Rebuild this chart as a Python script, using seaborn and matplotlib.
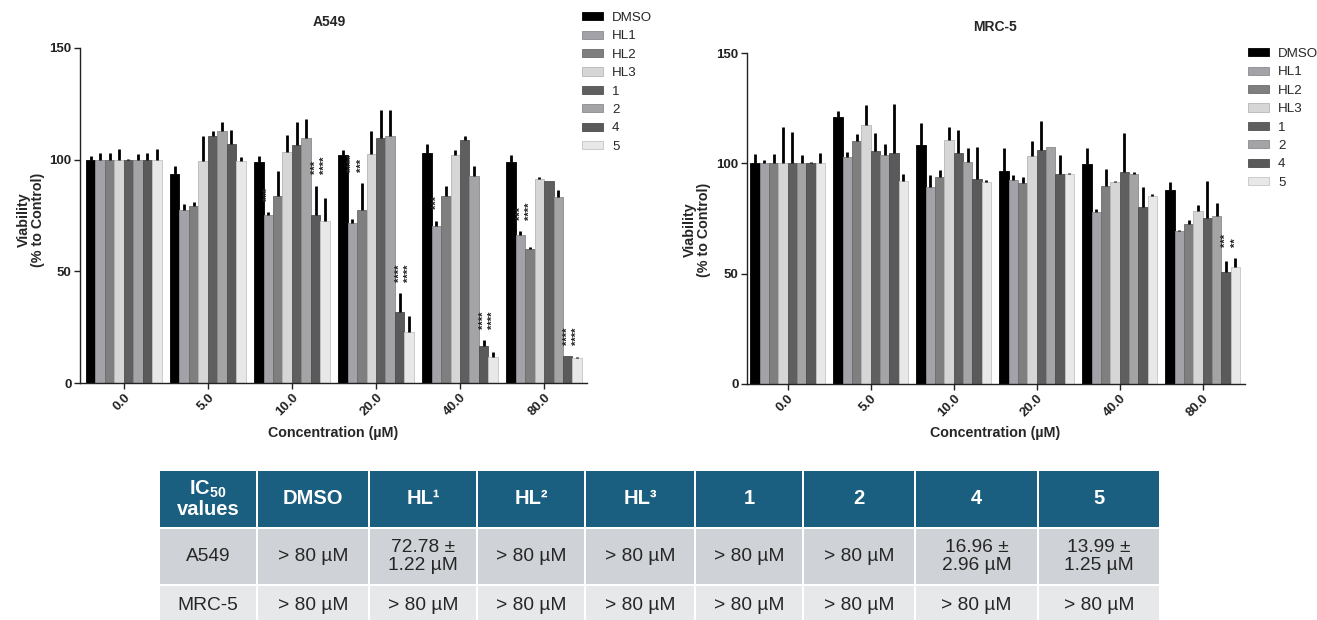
import numpy as np
import pandas as pd
import matplotlib
matplotlib.use("Agg")
import matplotlib.pyplot as plt
import seaborn as sns
from matplotlib.patches import Rectangle
from matplotlib.colors import to_rgb

# ---------------- data ----------------
concs = ["0.0", "5.0", "10.0", "20.0", "40.0", "80.0"]
compounds = ["DMSO", "HL1", "HL2", "HL3", "1", "2", "4", "5"]
colors = ["#000000", "#a2a2a8", "#7f7f7f", "#d6d6d6", "#5f5f5f", "#a4a4a7", "#5a5a5a", "#e8e8e8"]

a549_mean = {
    "DMSO": [100, 93.7, 98.8, 102.1, 103.0, 99.0],
    "HL1": [100, 77.6, 75.4, 71.8, 70.1, 66.3],
    "HL2": [100, 79.1, 83.6, 77.5, 83.6, 60.1],
    "HL3": [100, 99.6, 103.3, 102.5, 102.2, 91.3],
    "1": [100, 110.4, 106.4, 109.6, 108.7, 90.3],
    "2": [100, 112.7, 109.7, 110.7, 92.8, 83.1],
    "4": [100, 107.2, 75.4, 31.6, 16.4, 11.9],
    "5": [100, 99.3, 72.4, 22.8, 11.6, 11.2],
}
a549_err = {
    "DMSO": [1.5, 3.3, 2.7, 2.4, 4.2, 2.9],
    "HL1": [3.2, 2.7, 1.2, 1.6, 2.6, 1.9],
    "HL2": [3.2, 1.9, 11.3, 12.2, 4.5, 0.6],
    "HL3": [4.9, 10.8, 7.9, 10.2, 2.3, 0.8],
    "1": [0.5, 2.3, 10.3, 12.5, 1.7, 0.3],
    "2": [2.5, 4.2, 8.7, 11.4, 4.5, 3.2],
    "4": [3.0, 5.9, 13.0, 8.7, 2.7, 0.3],
    "5": [4.9, 1.7, 10.3, 7.1, 2.1, 0.3],
}
a549_stars = [
    ("10.0", "HL1", "***"), ("10.0", "4", "***"), ("10.0", "5", "****"),
    ("20.0", "HL1", "****"), ("20.0", "HL2", "***"), ("20.0", "4", "****"), ("20.0", "5", "****"),
    ("40.0", "HL1", "***"), ("40.0", "4", "****"), ("40.0", "5", "****"),
    ("80.0", "HL1", "***"), ("80.0", "HL2", "****"), ("80.0", "4", "****"), ("80.0", "5", "****"),
]

mrc5_mean = {
    "DMSO": [100, 121.0, 108.1, 96.3, 99.5, 88.0],
    "HL1": [100, 102.7, 89.5, 92.5, 77.9, 69.4],
    "HL2": [100, 110.2, 93.6, 91.0, 89.8, 72.6],
    "HL3": [100, 117.5, 110.4, 103.4, 91.5, 78.6],
    "1": [100, 105.7, 104.9, 105.9, 95.9, 75.2],
    "2": [100, 103.6, 100.7, 107.2, 95.3, 76.2],
    "4": [100, 104.6, 93.0, 95.3, 80.0, 50.7],
    "5": [100, 92.1, 91.5, 95.3, 85.4, 52.9],
}
mrc5_err = {
    "DMSO": [4.2, 2.5, 10.2, 10.6, 7.4, 3.6],
    "HL1": [1.3, 2.4, 5.0, 2.0, 1.5, 0.3],
    "HL2": [4.2, 3.1, 3.5, 3.0, 7.6, 1.5],
    "HL3": [16.4, 9.1, 6.0, 6.5, 0.4, 2.4],
    "1": [14.0, 8.0, 10.0, 13.1, 17.8, 16.9],
    "2": [3.6, 5.1, 6.2, 0.3, 0.6, 5.8],
    "4": [0.7, 22.3, 14.2, 8.3, 9.1, 5.1],
    "5": [4.6, 3.2, 0.9, 0.3, 0.6, 4.4],
}
mrc5_stars = [("80.0", "4", "***"), ("80.0", "5", "**")]

table_header = ["IC$_{50}$\nvalues", "DMSO", "HL\u00b9", "HL\u00b2", "HL\u00b3", "1", "2", "4", "5"]
table_rows = [
    ["A549", "> 80 \u00b5M", "72.78 \u00b1\n1.22 \u00b5M", "> 80 \u00b5M", "> 80 \u00b5M",
     "> 80 \u00b5M", "> 80 \u00b5M", "16.96 \u00b1\n2.96 \u00b5M", "13.99 \u00b1\n1.25 \u00b5M"],
    ["MRC-5", "> 80 \u00b5M", "> 80 \u00b5M", "> 80 \u00b5M", "> 80 \u00b5M",
     "> 80 \u00b5M", "> 80 \u00b5M", "> 80 \u00b5M", "> 80 \u00b5M"],
]

# ---------------- style ----------------
sns.set_theme(style="ticks")
plt.rcParams["font.family"] = ["Liberation Sans", "DejaVu Sans"]
plt.rcParams["mathtext.fontset"] = "custom"
plt.rcParams["mathtext.rm"] = "Liberation Sans:bold"
plt.rcParams["mathtext.it"] = "Liberation Sans:bold"
plt.rcParams["mathtext.bf"] = "Liberation Sans:bold"
plt.rcParams["mathtext.default"] = "rm"

W, H = 1317, 620
fig = plt.figure(figsize=(W / 100, H / 100), dpi=100)


def px_axes(x0, y0, x1, y1):
    return fig.add_axes([x0 / W, 1 - y1 / H, (x1 - x0) / W, (y1 - y0) / H])


palette = dict(zip(compounds, colors))


def draw_panel(ax, means, errs, stars, xlim, legend_xy):
    rows = []
    for c in compounds:
        for i, conc in enumerate(concs):
            rows.append({"conc": conc, "compound": c, "viability": means[c][i], "err": errs[c][i]})
    df = pd.DataFrame(rows)
    sns.barplot(data=df, x="conc", y="viability", hue="compound", order=concs,
                hue_order=compounds, palette=palette, width=0.9, saturation=1,
                errorbar=None, ax=ax, legend=True, linewidth=0.6)
    bar_conts = list(ax.containers)
    tops = {}
    for ci, cont in enumerate(bar_conts):
        comp = compounds[ci]
        xs, hs = [], []
        for bi, bar in enumerate(cont):
            fc = np.array(to_rgb(bar.get_facecolor()))
            bar.set_edgecolor(tuple(fc * 0.85))
            x = bar.get_x() + bar.get_width() / 2
            xs.append(x)
            hs.append(bar.get_height())
            tops[(concs[bi], comp)] = (x, bar.get_height() + errs[comp][bi])
        ax.errorbar(xs, hs, yerr=[np.zeros(len(xs)), errs[comp]], fmt="none",
                    ecolor="black", elinewidth=2.0, capsize=0, zorder=3)
    # significance stars, clustered by adjacent compounds
    for conc in concs:
        items = [(compounds.index(c), c, s) for (cc, c, s) in stars if cc == conc]
        items.sort()
        clusters = []
        for it in items:
            if clusters and it[0] - clusters[-1][-1][0] == 1:
                clusters[-1].append(it)
            else:
                clusters.append([it])
        for cl in clusters:
            base = max(tops[(conc, c)][1] for _, c, _ in cl) + 5
            for _, c, s in cl:
                ax.text(tops[(conc, c)][0], base, s, rotation=90, ha="center", va="bottom",
                        fontsize=8, color="#222222", fontweight="bold")
    ax.set_ylim(0, 150)
    ax.set_xlim(*xlim)
    ax.set_yticks([0, 50, 100, 150])
    ax.set_xlabel("")
    ax.set_ylabel("")
    sns.despine(ax=ax)
    for sp in ("left", "bottom"):
        ax.spines[sp].set_color("#222222")
        ax.spines[sp].set_linewidth(1.0)
    ax.tick_params(axis="both", length=4, width=1.0, color="#222222", labelsize=9.5,
                   labelcolor="#222222", pad=2)
    for lab in ax.get_yticklabels():
        lab.set_fontweight("bold")
    for lab in ax.get_xticklabels():
        lab.set_fontweight("bold")
        lab.set_rotation(45)
        lab.set_ha("right")
        lab.set_rotation_mode("anchor")
    handles, labels = ax.get_legend_handles_labels()
    if ax.get_legend() is not None:
        ax.get_legend().remove()
    for h, c in zip(handles, colors):
        h.set_facecolor(c)
        h.set_edgecolor(tuple(np.array(to_rgb(c)) * 0.85))
    fig.legend(handles, labels, loc="upper left",
               bbox_to_anchor=(legend_xy[0] / W, 1 - legend_xy[1] / H),
               frameon=False, fontsize=9.6, handlelength=1.55, handleheight=0.55,
               labelspacing=0.48, handletextpad=0.7, borderpad=0, borderaxespad=0)


ax1 = px_axes(80, 48, 587, 383)
draw_panel(ax1, a549_mean, a549_err, a549_stars, (-0.52, 5.51), (582, 12))
ax2 = px_axes(747, 53, 1245, 384)
draw_panel(ax2, mrc5_mean, mrc5_err, mrc5_stars, (-0.49, 5.51), (1248, 48))

# titles and axis labels
fig.text(329 / W, 1 - 22 / H, "A549", ha="center", va="center", fontsize=10, fontweight="bold")
fig.text(995 / W, 1 - 27 / H, "MRC-5", ha="center", va="center", fontsize=10, fontweight="bold")
for (x, y) in [(31, 220), (697, 230)]:
    fig.text(x / W, 1 - y / H, "Viability\n(% to Control)", ha="center", va="center",
             rotation=90, fontsize=10.3, fontweight="bold", linespacing=1.05)
for (x, y) in [(333, 433), (995, 433)]:
    fig.text(x / W, 1 - y / H, "Concentration (\u00b5M)", ha="center", va="center",
             fontsize=10.3, fontweight="bold")

# ---------------- table ----------------
col_w = [98, 112, 108, 108, 110, 108, 112, 123, 122]
row_h = [58, 57, 40]
row_colors = ["#1a5e80", "#cfd2d6", "#e6e8ea"]
gap = 2
tw = sum(col_w)
th = sum(row_h)
axt = px_axes(159, 470, 159 + tw, 470 + th)
axt.set_xlim(0, tw)
axt.set_ylim(th, 0)
axt.axis("off")
y = 0
for r, rh in enumerate(row_h):
    x = 0
    for c, cw in enumerate(col_w):
        axt.add_patch(Rectangle((x + gap / 2, y + gap / 2), cw - gap, rh - gap,
                                facecolor=row_colors[r], edgecolor="none"))
        if r == 0:
            txt = table_header[c]
            axt.text(x + cw / 2, y + rh / 2, txt, ha="center", va="center", color="white",
                     fontsize=14.5, fontweight="bold", linespacing=1.0)
        else:
            txt = table_rows[r - 1][c]
            cy = y + rh / 2 if r == 1 else y + 21
            axt.text(x + cw / 2, cy, txt, ha="center", va="center", color="#262626",
                     fontsize=13.8, linespacing=1.15)
        x += cw
    y += rh

fig.savefig("out.png", dpi=100)
